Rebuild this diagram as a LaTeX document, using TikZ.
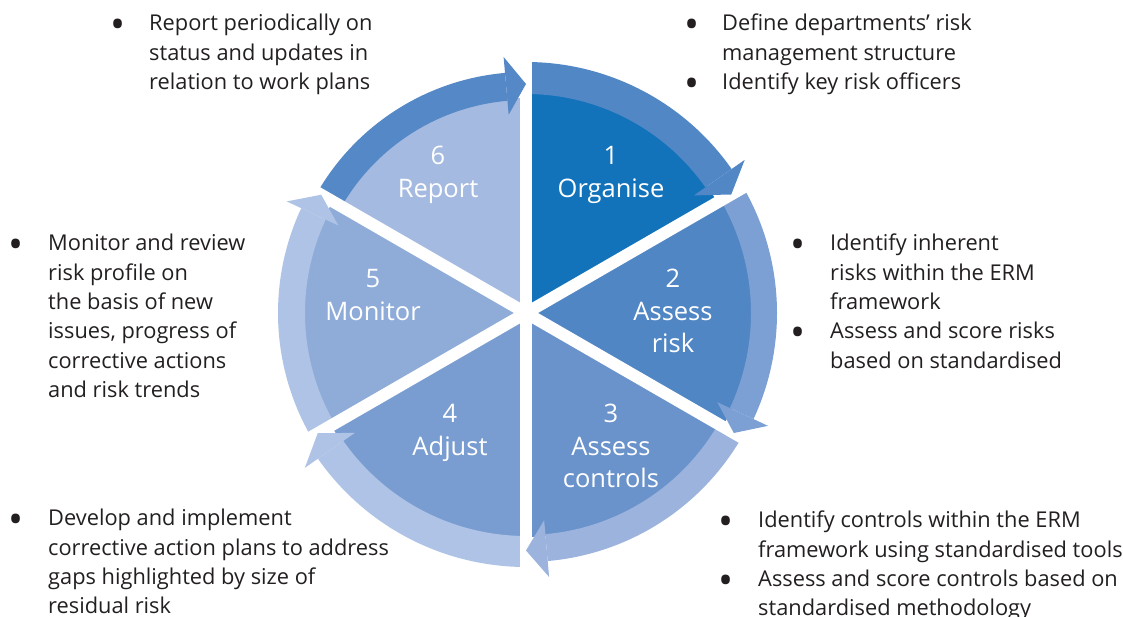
\documentclass[tikz,border=0pt]{standalone}
\usepackage{fontspec}
\setmainfont{Open Sans}
\definecolor{txt}{HTML}{231F20}
\definecolor{w1}{HTML}{1273BB}
\definecolor{w2}{HTML}{5186C5}
\definecolor{w3}{HTML}{6B93CB}
\definecolor{w4}{HTML}{7A9DD1}
\definecolor{w5}{HTML}{8FACD9}
\definecolor{w6}{HTML}{A5BAE0}
\definecolor{b1}{HTML}{5287C6}
\definecolor{b2}{HTML}{7DA0D4}
\definecolor{b3}{HTML}{9BB3DD}
\definecolor{b4}{HTML}{AEC3E5}
\definecolor{b5}{HTML}{AEC3E5}
\definecolor{b6}{HTML}{5488C7}
\begin{document}
\begin{tikzpicture}[x=1pt,y=1pt,
  body/.style={anchor=base west, inner sep=0pt, font=\fontsize{21.8}{29.3}\selectfont, text=txt},
  bul/.style={anchor=center, inner sep=0pt, font=\fontsize{40}{40}\selectfont, text=txt},
  lab/.style={anchor=base, inner sep=0pt, font=\fontsize{25.5}{32}\selectfont, text=white}]
\useasboundingbox (0,0) rectangle (1123,617);
\begin{scope}[shift={(526,304)}]
  % wedges
  \foreach \s/\r/\c in {90/221/w1,30/227/w2,-30/224/w3,-90/225/w4,-150/223/w5,150/215/w6}
    \fill[\c] (0,0) -- (\s:\r) arc[start angle=\s, end angle={\s-60}, radius=\r] -- cycle;
  % band shafts
  \foreach \s/\ri/\ro/\c in {90/219/251/b1, 30/225/251/b2, -30/222/249/b3, -90/223/254/b4, -150/221/248/b5, 150/213/241/b6}
    \fill[\c] (\s:\ri) arc[start angle=\s, end angle={\s-55}, radius=\ri]
      -- ({\s-55}:\ro) arc[start angle={\s-55}, end angle=\s, radius=\ro] -- cycle;
  % gaps
  \foreach \a in {90,30,-30,-90,-150,150}
    \draw[white, line width=12pt] (0,0) -- (\a:275);
  % arrowheads
  \foreach \s/\ri/\ro/\c in {90/219/251/b1, 30/225/251/b2, -30/222/249/b3, -90/223/254/b4, -150/221/248/b5, 150/213/241/b6}
    \fill[\c] ({\s-55}:{\ri-14}) -- ({\s-60}:{(\ri+\ro)/2+2}) -- ({\s-55}:{\ro+16}) -- cycle;
\end{scope}
% wedge labels
\node[lab] (l6a) at (438,{617-165}) {6};
\node[lab] (l6b) at (438,{617-197.5}) {Report};
\node[lab] (l1a) at (611,{617-165}) {1};
\node[lab] (l1b) at (611,{617-197.5}) {Organise};
\node[lab] (l2a) at (673,{617-288}) {2};
\node[lab] (l2b) at (673,{617-320.5}) {Assess};
\node[lab] (l2c) at (673,{617-353}) {risk};
\node[lab] (l3a) at (611,{617-423}) {3};
\node[lab] (l3b) at (611,{617-455.5}) {Assess};
\node[lab] (l3c) at (611,{617-488}) {controls};
\node[lab] (l4a) at (450,{617-423}) {4};
\node[lab] (l4b) at (450,{617-455.5}) {Adjust};
\node[lab] (l5a) at (373,{617-288}) {5};
\node[lab] (l5b) at (373,{617-320.5}) {Monitor};
% text blocks
\foreach \t [count=\i from 0] in {Report periodically on, status and updates in, relation to work plans}
  \node[body] (tl\i) at (149,{617-31-29.3*\i}) {\t};
\node[bul] (btl) at (118,{617-31+2}) {•};
\foreach \t [count=\i from 0] in {Define departments’ risk, management structure, Identify key risk officers}
  \node[body] (tr\i) at (722,{617-31-29.3*\i}) {\t};
\node[bul] (btr1) at (692,{617-31+2}) {•};
\node[bul] (btr2) at (692,{617-31-2*29.3+2}) {•};
\foreach \t [count=\i from 0] in {Identify inherent, risks within the ERM, framework, Assess and score risks, based on standardised}
  \node[body] (r\i) at (830,{617-251-29.3*\i}) {\t};
\node[bul] (br1) at (798,{617-251+2}) {•};
\node[bul] (br2) at (798,{617-251-3*29.3+2}) {•};
\foreach \t [count=\i from 0] in {Monitor and review, risk profile on, the basis of new, {issues, progress of}, corrective actions, and risk trends}
  \node[body] (ll\i) at (48,{617-251-29.3*\i}) {\t};
\node[bul] (bl1) at (16,{617-251+2}) {•};
\foreach \t [count=\i from 0] in {Develop and implement, corrective action plans to address, gaps highlighted by size of, residual risk}
  \node[body] (bl\i) at (48,{617-526-29.3*\i}) {\t};
\node[bul] (bbl) at (16,{617-526+2}) {•};
\foreach \t [count=\i from 0] in {Identify controls within the ERM, framework using standardised tools, Assess and score controls based on, standardised methodology}
  \node[body] (brr\i) at (758,{617-528-29.3*\i}) {\t};
\node[bul] (bbr1) at (726,{617-528+2}) {•};
\node[bul] (bbr2) at (726,{617-528-2*29.3+2}) {•};
\end{tikzpicture}
\end{document}
